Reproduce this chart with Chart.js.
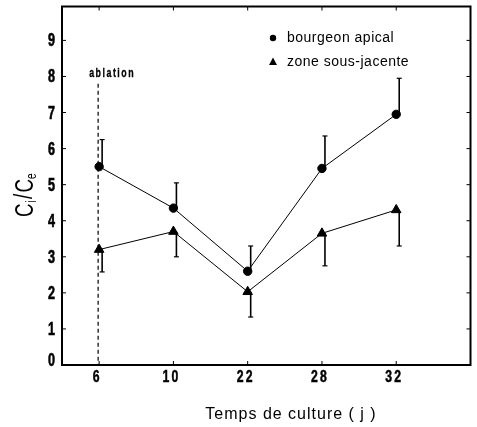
<!DOCTYPE html>
<html>
<head>
<meta charset="utf-8">
<script src="https://cdn.jsdelivr.net/npm/chart.js@4.4.0/dist/chart.umd.min.js"></script>
<style>
  html, body { margin: 0; padding: 0; background: #fff; }
  #wrap { width: 477px; height: 427px; }
</style>
</head>
<body>
<div id="wrap"><canvas id="myChart" width="477" height="427"></canvas></div>
<script>
// days of culture (categories)
var days = ['6', '10', '22', '28', '32'];
// bourgeon apical: mean and top of error bar
var apical = [5.5, 4.35, 2.6, 5.45, 6.95];
var apicalTop = [6.25, 5.05, 3.3, 6.35, 7.95];
// zone sous-jacente: mean and bottom of error bar
var zone = [3.2, 3.7, 2.03, 3.65, 4.3];
var zoneBottom = [2.58, 3.0, 1.33, 2.75, 3.3];
var yTicks = [0, 1, 2, 3, 4, 5, 6, 7, 8, 9];
var ablationTop = 7.8;

var sans = "'Liberation Sans', Arial, sans-serif";

function pts(vals) {
    var out = [];
    for (var i = 0; i < vals.length; i++) out.push({x: i, y: vals[i]});
    return out;
}

// draws horizontally squeezed text (the figure uses a condensed face)
function narrowText(ctx, text, x, y, font, sx, align, spacing, heavy) {
    ctx.save();
    ctx.font = font;
    ctx.letterSpacing = (spacing || 0) + 'px';
    var w = ctx.measureText(text).width * sx;
    var x0 = x;
    if (align === 'center') x0 = x - w / 2;
    if (align === 'right') x0 = x - w;
    ctx.translate(x0, y);
    ctx.scale(sx, 1);
    ctx.textAlign = 'left';
    ctx.fillText(text, 0, 0);
    if (heavy) { ctx.lineWidth = heavy; ctx.strokeText(text, 0, 0); }
    ctx.restore();
}

var extras = {
    id: 'extras',
    afterDatasetsDraw: function(chart) {
        var ctx = chart.ctx;
        var xs = chart.scales.x, ys = chart.scales.y;
        var a = chart.chartArea;
        ctx.save();
        ctx.strokeStyle = '#000';
        ctx.fillStyle = '#000';

        // frame
        ctx.lineWidth = 2;
        ctx.strokeRect(a.left, a.top, a.right - a.left, a.bottom - a.top);

        // inward ticks on all four sides + tick labels
        ctx.lineWidth = 1;
        ctx.textBaseline = 'middle';
        yTicks.forEach(function(v) {
            var y = ys.getPixelForValue(v);
            ctx.beginPath(); ctx.moveTo(a.left, y); ctx.lineTo(a.left + 4, y); ctx.stroke();
            ctx.beginPath(); ctx.moveTo(a.right, y); ctx.lineTo(a.right - 4, y); ctx.stroke();
            narrowText(ctx, String(v), a.left - 7, v === 0 ? y - 4 : y + 1, "bold 18px " + sans, 0.7, 'right', 0, 0.6);
        });
        days.forEach(function(d, i) {
            var x = xs.getPixelForValue(i);
            ctx.beginPath(); ctx.moveTo(x, a.bottom); ctx.lineTo(x, a.bottom - 4); ctx.stroke();
            ctx.beginPath(); ctx.moveTo(x, a.top); ctx.lineTo(x, a.top + 4); ctx.stroke();
            narrowText(ctx, d, x - 2, a.bottom + 12, "bold 17px " + sans, 0.72, 'center', 3, 0.5);
        });

        // ablation dashed line
        var xa = xs.getPixelForValue(0) - 1;
        ctx.setLineDash([4, 3]);
        ctx.lineWidth = 1.2;
        ctx.beginPath(); ctx.moveTo(xa, ys.getPixelForValue(ablationTop)); ctx.lineTo(xa, a.bottom); ctx.stroke();
        ctx.setLineDash([]);
        narrowText(ctx, 'ablation', xa + 14, ys.getPixelForValue(ablationTop) - 10, "bold 13px " + sans, 0.68, 'center', 2.2, 0.3);

        // error bars
        function bar(i, v1, v2) {
            var x = xs.getPixelForValue(i) + 3;
            var y1 = ys.getPixelForValue(v1), y2 = ys.getPixelForValue(v2);
            ctx.lineWidth = 1.6;
            ctx.beginPath(); ctx.moveTo(x, y1); ctx.lineTo(x, y2); ctx.stroke();
            ctx.lineWidth = 1.2;
            ctx.beginPath(); ctx.moveTo(x - 2.5, y2); ctx.lineTo(x + 2.5, y2); ctx.stroke();
        }
        for (var i = 0; i < days.length; i++) {
            bar(i, apical[i], apicalTop[i]);
            bar(i, zone[i], zoneBottom[i]);
        }

        // legend
        ctx.font = "14px " + sans;
        ctx.letterSpacing = '0.5px';
        ctx.textAlign = 'left';
        ctx.beginPath(); ctx.arc(273, 38, 3.2, 0, Math.PI * 2); ctx.fill();
        ctx.fillText('bourgeon apical', 287, 38);
        ctx.beginPath(); ctx.moveTo(273, 57.5); ctx.lineTo(277, 65); ctx.lineTo(269, 65); ctx.closePath(); ctx.fill();
        ctx.fillText('zone sous-jacente', 287, 62);

        // x title
        ctx.font = "16px " + sans;
        ctx.letterSpacing = '1px';
        ctx.textAlign = 'center';
        ctx.textBaseline = 'alphabetic';
        ctx.fillText('Temps de culture ( j )', 291, 419);
        ctx.letterSpacing = '0px';

        // y title  Ci / Ce, rotated
        ctx.translate(33, 217);
        ctx.rotate(-Math.PI / 2);
        ctx.scale(0.72, 1);
        ctx.textAlign = 'left';
        var big = "26px " + sans, small = "14px " + sans;
        var x0 = 0;
        ctx.font = big; ctx.fillText('C', x0, 0); x0 += ctx.measureText('C').width;
        ctx.font = small; ctx.fillText('i', x0 + 1, 3); x0 += ctx.measureText('i').width + 3;
        ctx.font = big; ctx.fillText('/', x0, -1); x0 += ctx.measureText('/').width + 2;
        ctx.fillText('C', x0, 0); x0 += ctx.measureText('C').width;
        ctx.font = small; ctx.fillText('e', x0, 3);
        ctx.restore();
    }
};

var ctx = document.getElementById('myChart').getContext('2d');
var chart = new Chart(ctx, {
    type: 'scatter',
    data: {
        datasets: [{
            label: 'bourgeon apical',
            data: pts(apical),
            showLine: true,
            borderColor: '#000',
            backgroundColor: '#000',
            borderWidth: 1,
            pointStyle: 'circle',
            pointRadius: 4.2
        }, {
            label: 'zone sous-jacente',
            data: pts(zone),
            showLine: true,
            borderColor: '#000',
            backgroundColor: '#000',
            borderWidth: 1,
            pointStyle: 'triangle',
            pointRadius: 5.5
        }]
    },
    options: {
        responsive: false,
        animation: false,
        layout: { padding: { top: 6, right: 4, left: 0, bottom: 0 } },
        plugins: { legend: { display: false }, tooltip: { enabled: false } },
        scales: {
            x: {
                type: 'linear',
                min: -0.5,
                max: 5,
                afterFit: function(s) { s.height = 62; s.paddingLeft = 0; s.paddingRight = 0; },
                ticks: { display: false },
                grid: { display: false },
                border: { display: false }
            },
            y: {
                min: 0,
                max: 9.94,
                afterFit: function(s) { s.width = 62; s.paddingTop = 0; s.paddingBottom = 0; },
                ticks: { display: false },
                grid: { display: false },
                border: { display: false }
            }
        }
    },
    plugins: [extras]
});
</script>
</body>
</html>
